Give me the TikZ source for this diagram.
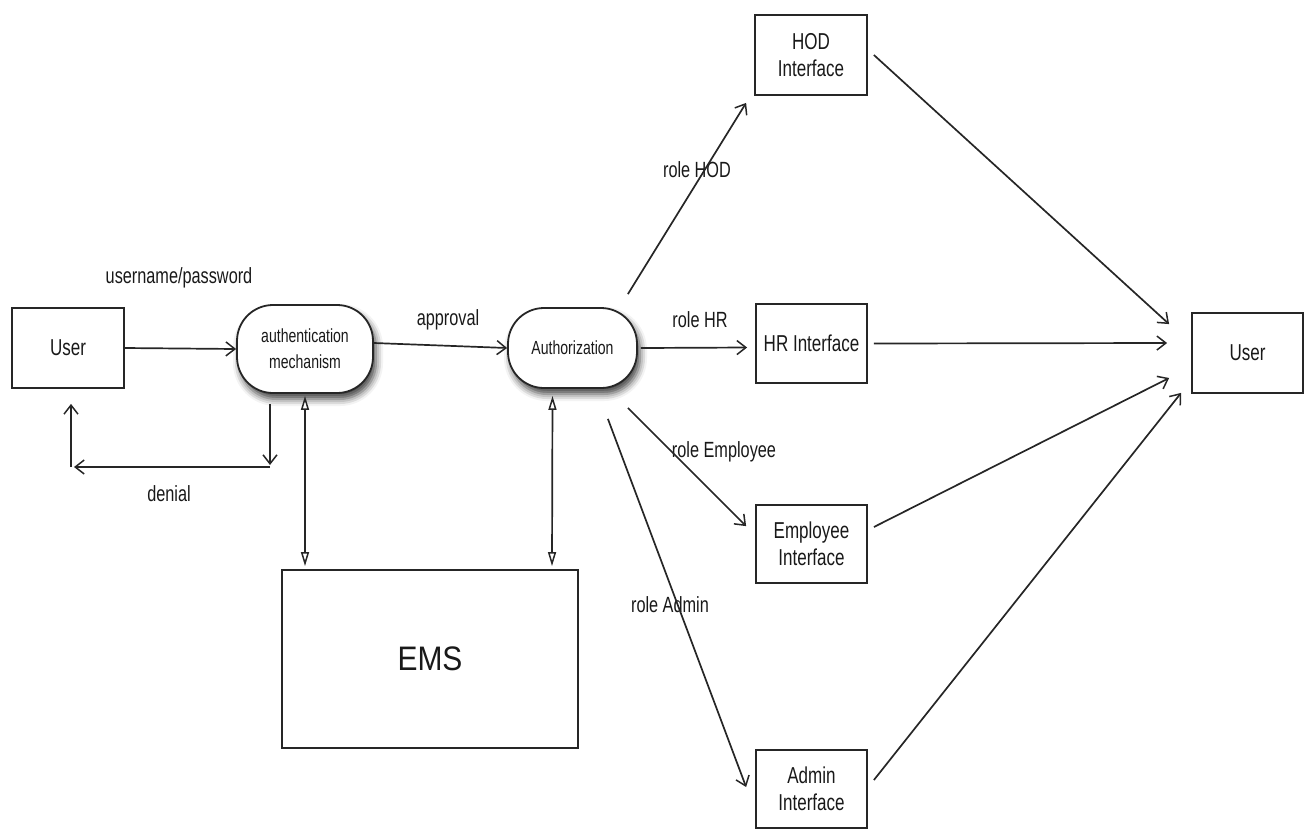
\documentclass[tikz,border=0pt]{standalone}
\usepackage{fontspec}
\setmainfont[FakeStretch=0.74]{Liberation Sans}
\newfontfamily\emsfont[FakeStretch=0.88]{Liberation Sans}
\usetikzlibrary{arrows.meta,shadows.blur,calc}

\begin{document}
\begin{tikzpicture}[x=1pt,y=-1pt,
  box/.style={draw=black!85, line width=1.8pt, fill=white, minimum width=112pt,
    minimum height=80pt, inner sep=0pt, align=center, text=black!90,
    font=\fontsize{23}{27}\selectfont},
  proc/.style={box, rounded corners=36pt,
    blur shadow={shadow xshift=3pt, shadow yshift=-6pt, shadow blur radius=7pt, shadow opacity=75},
    font=\fontsize{19}{26}\selectfont},
  lbl/.style={text=black!90, font=\fontsize{22}{26}\selectfont, inner sep=0pt},
  arr/.style={draw=black!85, line width=1.7pt,
    -{Straight Barb[length=9pt,width=14pt,line width=1.5pt]}},
  dbl/.style={draw=black!85, line width=1.7pt,
    {Triangle[open,length=14pt,width=8pt,fill=white,line width=1.5pt]}-{Triangle[open,length=14pt,width=8pt,fill=white,line width=1.5pt]}}
]
\useasboundingbox (0,0) rectangle (1315,831);

% nodes
\node[box] (userL) at (68,348) {User};
\node[proc, minimum width=136pt, minimum height=88pt] (auth) at (305,349) {authentication\\mechanism};
\node[proc, minimum width=129pt] (authz) at (572.5,348) {Authorization};
\node[box, minimum width=296pt, minimum height=178pt, font=\emsfont\fontsize{34}{40}\selectfont] (ems) at (430,659) {EMS};
\node[box] (hod) at (811,55) {HOD\\Interface};
\node[box, minimum width=111pt, minimum height=79pt] (hr) at (811.5,343.5) {HR Interface};
\node[box, minimum width=111pt, minimum height=78pt] (emp) at (811.5,544) {Employee\\Interface};
\node[box, minimum width=111pt, minimum height=78pt] (adm) at (811.5,789) {Admin\\Interface};
\node[box, minimum width=111pt] (userR) at (1247.5,353) {User};

% labels
\node[lbl] (lup) at (179,278) {username/password};
\node[lbl] (lap) at (448,320) {approval};
\node[lbl] (lde) at (169,494) {denial};
\node[lbl] (lhod) at (697,170) {role HOD};
\node[lbl] (lhr) at (700,320) {role HR};
\node[lbl] (lemp) at (724,452) {role Employee};
\node[lbl] (ladm) at (670,605) {role Admin};

% login flow
\draw[arr] (userL.east) -- (auth.west);
\draw[arr] ([shift={(0,-6)}]auth.east) -- (authz.west);

% denial loop back to the user
\coordinate (dB) at (270,467);
\coordinate (dC) at (71,467);
\draw[arr] ([shift={(-35,10)}]auth.south) -- ($(dB)+(0,-2)$);
\draw[arr] (dB) -- ($(dC)+(3,0)$);
\draw[arr] (dC) -- ([shift={(3,15)}]userL.south);

% database links
\draw[dbl] ([shift={(0,2)}]auth.south) -- ([shift={(-125,-3)}]ems.north);
\draw[dbl] ([shift={(-20,7)}]authz.south) -- ([shift={(122,-3)}]ems.north);

% role dispatch
\draw[arr] ([shift={(-10,-13)}]authz.north east) -- ([shift={(-8,7)}]hod.south west);
\draw[arr] ([shift={(3,0)}]authz.east) -- ([shift={(-8,4)}]hr.west);
\draw[arr] ([shift={(-10,19)}]authz.south east) -- ([shift={(-9,22)}]emp.north west);
\draw[arr] ([shift={(-30,30)}]authz.south east) -- ([shift={(-9,-2)}]adm.west);

% interfaces to the user
\draw[arr] ([shift={(6,0)}]hod.east) -- ([shift={(-22,12)}]userR.north west);
\draw[arr] ([shift={(6,0)}]hr.east) -- ([shift={(-24,-10)}]userR.west);
\draw[arr] ([shift={(6,-17)}]emp.east) -- ([shift={(-22,25)}]userR.west);
\draw[arr] ([shift={(6,-9)}]adm.east) -- ([shift={(-10,-1)}]userR.south west);
\end{tikzpicture}
\end{document}
